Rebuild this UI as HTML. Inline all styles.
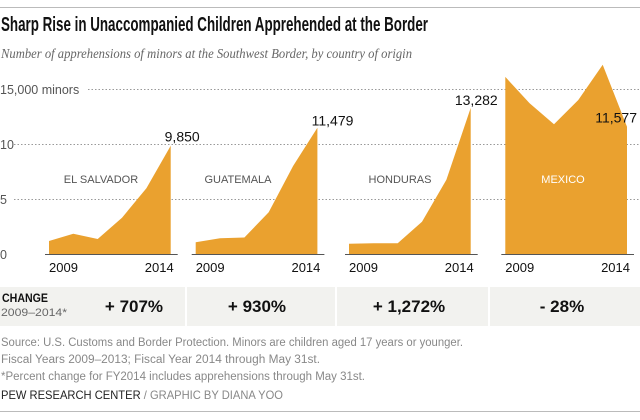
<!DOCTYPE html>
<html><head><meta charset="utf-8"><style>
body{margin:0;background:#fff}
svg{display:block;font-family:"Liberation Sans",sans-serif}
</style></head><body>
<svg id="c" width="640" height="420" viewBox="0 0 640 420">
<line x1="0" y1="7.5" x2="640" y2="7.5" stroke="#bbb"/>
<text x="1" y="31" font-size="20" font-weight="bold" fill="#111" textLength="427" lengthAdjust="spacingAndGlyphs">Sharp Rise in Unaccompanied Children Apprehended at the Border</text>
<text x="1" y="58" font-size="14" font-style="italic" fill="#666" font-family="Liberation Serif,serif" textLength="411" lengthAdjust="spacingAndGlyphs">Number of apprehensions of minors at the Southwest Border, by country of origin</text>
<g id="grid"></g>
<g id="panels"></g>
<rect x="0" y="287" width="640" height="39" fill="#f2f2ef"/>
<g id="changes"></g>
<text x="2" y="302" font-size="12" font-weight="bold" fill="#111" textLength="46" lengthAdjust="spacingAndGlyphs">CHANGE</text>
<text x="1" y="316" font-size="11" fill="#666" textLength="66" lengthAdjust="spacingAndGlyphs">2009–2014*</text>
<g font-size="11.5" fill="#888">
<text x="1" y="346" textLength="462" lengthAdjust="spacingAndGlyphs">Source: U.S. Customs and Border Protection. Minors are children aged 17 years or younger.</text>
<text x="1" y="363" textLength="319" lengthAdjust="spacingAndGlyphs">Fiscal Years 2009–2013; Fiscal Year 2014 through May 31st.</text>
<text x="1" y="380" textLength="364" lengthAdjust="spacingAndGlyphs">*Percent change for FY2014 includes apprehensions through May 31st.</text>
</g>
<text x="1" y="399" font-size="12" fill="#222" textLength="282" lengthAdjust="spacingAndGlyphs">PEW RESEARCH CENTER <tspan fill="#888">/  GRAPHIC BY DIANA YOO</tspan></text>
<line x1="0" y1="411.5" x2="640" y2="411.5" stroke="#bbb"/>
</svg>
<script>
const countries=["EL SALVADOR","GUATEMALA","HONDURAS","MEXICO"];
const years=[2009,2010,2011,2012,2013,2014];
const elSalvador=[1.18,1.85,1.36,3.3,5.97,9.85];
const guatemala=[1.06,1.43,1.5,3.8,8.0,11.479];
const honduras=[0.94,0.98,0.97,2.94,6.75,13.282];
const mexico=[16.1,13.7,11.8,14.0,17.2,11.577];
const endLabels=["9,850","11,479","13,282","11,577"];
const changes=["+ 707%","+ 930%","+ 1,272%","- 28%"];
const yTicks=[0,5,10,15];
const yTickLabels=["0","5","10","15,000 minors"];
const series=[elSalvador,guatemala,honduras,mexico];
const NS="http://www.w3.org/2000/svg";
function y(v){return 254-v*11.0;}
const starts=[49,195.7,349,505.3], span=121.7;
const labelCx=[101,238,400,563];
const endDx=[29,36,27,10], endDy=[-4,-2,-3,-4];
function x(p,i){return starts[p]+i*span/(years.length-1);}
function mk(tag,attrs,parent){const e=document.createElementNS(NS,tag);for(const k in attrs)e.setAttribute(k,attrs[k]);parent.appendChild(e);return e;}
const grid=document.getElementById('grid');
yTicks.forEach((t,i)=>{
  if(t>0){const l=mk('line',{x1:i==3?88:14,x2:640,y1:y(t)+0.5,y2:y(t)+0.5,stroke:'#999','stroke-dasharray':'1.5,2'},grid);
  
  }
  const tx=mk('text',{x:0,y:y(t)+5,'font-size':12.5,fill:'#555'},grid);
  tx.textContent=yTickLabels[i];
  
  
});
const panels=document.getElementById('panels');
series.forEach((s,p)=>{
  const g=mk('g',{},panels);
  
  
  let d='M'+x(p,0)+','+y(0);
  s.forEach((v,i)=>{d+=' L'+x(p,i).toFixed(1)+','+y(v).toFixed(1);});
  d+=' L'+x(p,s.length-1)+','+y(0)+'Z';
  const a=mk('path',{d:d,fill:'#eaa12f'},g);
  
  
  const ax=mk('line',{x1:starts[p]-4,x2:starts[p]+span+7,y1:254.5,y2:254.5,stroke:'#555'},g);
  
  
  [[0,'start',years[0]],[5,'end',years[5]]].forEach(([i,an,yr])=>{
    const t=mk('text',{x:i==0?starts[p]:starts[p]+span+3,y:272,'font-size':13,fill:'#111','text-anchor':an},g);
    t.textContent=yr;
    
    
  });
  const cl=mk('text',{x:labelCx[p],y:183,'font-size':11,fill:p==3?'#fff':'#555','text-anchor':'middle'},g);
  cl.textContent=countries[p];
  
  
  const last=s[s.length-1];
  const el=mk('text',{x:x(p,s.length-1)+endDx[p],y:y(last)+endDy[p],'font-size':14,fill:'#111','text-anchor':'end'},g);
  el.textContent=endLabels[p];
  
  
});
const ch=document.getElementById('changes');
const seps=[186,336,489], cxs=[134,257,409,562];
seps.forEach(sx=>{const l=mk('line',{x1:sx,x2:sx,y1:287,y2:326,stroke:'#fff','stroke-width':2},ch);
  
  });
changes.forEach((c,i)=>{
  const t=mk('text',{x:cxs[i],y:312,'font-size':17,'font-weight':'bold',fill:'#111','text-anchor':'middle'},ch);
  t.textContent=c;
  
  
});
</script>
</body></html>
